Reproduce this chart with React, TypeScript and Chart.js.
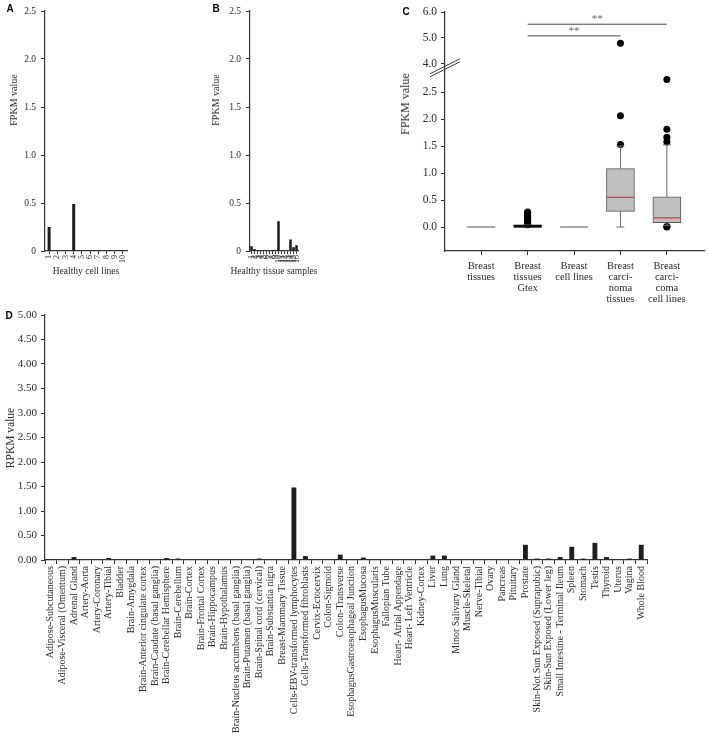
import React, { useEffect, useRef } from 'react';
import { Chart, registerables } from 'chart.js';
Chart.register(...registerables);

const SERIF = '"Liberation Serif", "Times New Roman", serif';
const SANS = '"Liberation Sans", Arial, sans-serif';

// ---------- Panel A ----------
const cellLineLabels = ['1', '2', '3', '4', '5', '6', '7', '8', '9', '10'];
const cellLineValues = [0.25, 0, 0, 0.49, 0, 0, 0, 0, 0, 0.01];
// ---------- Panel B ----------
const tissueSampleLabels = ['1', '2', '3', '4', '5', '6', '7', '8', '9', '10', '11', '12', '13', '14', '15', '16'];
const tissueSampleValues = [0.05, 0.02, 0, 0, 0, 0, 0, 0, 0, 0.31, 0, 0, 0, 0.12, 0.04, 0.06];
const fpkmTicksAB = [0, 0.5, 1.0, 1.5, 2.0, 2.5];

// ---------- Panel C ----------
const boxGroups = [
  ['Breast', 'tissues'],
  ['Breast', 'tissues', 'Gtex'],
  ['Breast', 'cell lines'],
  ['Breast', 'carci-', 'noma', 'tissues'],
  ['Breast', 'carci-', 'coma', 'cell lines'],
];
const boxQ1 = [0, 0, 0, 0.29, 0.08];
const boxMedian = [0, 0.01, 0, 0.55, 0.17];
const boxQ3 = [0, 0.03, 0, 1.08, 0.56];
const whiskerLow = [0, 0, 0, 0, 0.03];
const whiskerHigh = [0, 0.04, 0, 1.50, 1.52];
const outliers = [
  [],
  [0.04, 0.06, 0.08, 0.1, 0.12, 0.14, 0.16, 0.18, 0.2, 0.22, 0.24, 0.26, 0.28],
  [],
  [1.53, 2.06, 4.8],
  [0.0, 0.01, 1.58, 1.66, 1.81, 2.73],
];
const lowerAxisRange = [-0.444, 2.875];
const upperAxisRange = [3.7, 6.0];
const lowerTicks = [0, 0.5, 1.0, 1.5, 2.0, 2.5];
const upperTicks = [4.0, 5.0, 6.0];
const sigPairs = [[1, 3], [1, 4]];
const sigLevels = [5.08, 5.53];
const sigMarks = ['**', '**'];

// ---------- Panel D ----------
const gtexTissues = [
  'Adipose-Subcutaneous', 'Adipose-Visceral (Omentum)', 'Adrenal Gland', 'Artery-Aorta', 'Artery-Coronary',
  'Artery-Tibial', 'Bladder', 'Brain-Amygdala', 'Brain-Anterior cingulate cortex', 'Brain-Caudate (basal ganglia)',
  'Brain-Cerebellar Hemisphere', 'Brain-Cerebellum', 'Brain-Cortex', 'Brain-Frontal Cortex', 'Brain-Hippocampus',
  'Brain-Hypothalamus', 'Brain-Nucleus accumbens (basal ganglia)', 'Brain-Putamen (basal ganglia)',
  'Brain-Spinal cord (cervical)', 'Brain-Substantia nigra', 'Breast-Mammary Tissue',
  'Cells-EBV-transformed lymphocytes', 'Cells-Transformed fibroblasts', 'Cervix-Ectocervix', 'Colon-Sigmoid',
  'Colon-Transverse', 'EsophagusGastroesophageal Junction', 'EsophagusMucosa', 'EsophagusMuscularis',
  'Fallopian Tube', 'Heart- Atrial Appendage', 'Heart- Left Ventricle', 'Kidney-Cortex', 'Liver', 'Lung',
  'Minor Salivary Gland', 'Muscle-Skeletal', 'Nerve-Tibial', 'Ovary', 'Pancreas', 'Pituitary', 'Prostate',
  'Skin-Not Sun Exposed (Suprapubic)', 'Skin-Sun Exposed (Lower leg)', 'Small Intestine - Terminal Ileum',
  'Spleen', 'Stomach', 'Testis', 'Thyroid', 'Uterus', 'Vagina', 'Whole Blood',
];
const gtexRpkm = [
  0.005, 0.01, 0.06, 0, 0,
  0.04, 0, 0.01, 0, 0,
  0.04, 0.03, 0, 0, 0.01,
  0.01, 0, 0,
  0.03, 0.01, 0,
  1.48, 0.08, 0.01, 0,
  0.11, 0, 0.05, 0,
  0, 0, 0, 0, 0.09, 0.09,
  0, 0.01, 0.01, 0, 0, 0, 0.31,
  0.03, 0.03, 0.06,
  0.27, 0.03, 0.35, 0.06, 0, 0.03, 0.31,
];
const rpkmTicks = [0, 0.5, 1, 1.5, 2, 2.5, 3, 3.5, 4, 4.5, 5];

const AX = '#333';
const TXT = '#2a2a2a';

function smallBarConfig(labels: string[], values: number[], yWidth: number, padRight: number, barPct: number): any {
  return {
    type: 'bar',
    data: { labels, datasets: [{ data: values, backgroundColor: '#1e1e1e', barPercentage: barPct, categoryPercentage: 1 }] },
    options: {
      responsive: false,
      animation: false,
      layout: { padding: { top: 11, right: padRight, left: 0, bottom: 0 } },
      plugins: { legend: { display: false }, tooltip: { enabled: false } },
      scales: {
        x: {
          grid: { drawOnChartArea: false, drawTicks: true, tickLength: 3, color: AX, offset: false },
          border: { color: AX, width: 1.2 },
          ticks: { font: { family: SERIF, size: 8 }, color: TXT, minRotation: 90, maxRotation: 90, autoSkip: false, padding: 1 },
          afterFit: (s: any) => { s.height = 39; },
        },
        y: {
          min: 0, max: 2.5,
          afterBuildTicks: (s: any) => { s.ticks = fpkmTicksAB.map((v) => ({ value: v })); },
          ticks: { callback: (v: number) => (v === 0 ? '0' : v.toFixed(1)), font: { family: SERIF, size: 9.5 }, color: TXT, padding: 5 },
          grid: { drawOnChartArea: false, tickLength: 4, color: AX },
          border: { color: AX, width: 1.2 },
          afterFit: (s: any) => { s.width = yWidth; },
        },
      },
    },
  };
}

function line(ctx: CanvasRenderingContext2D, x1: number, y1: number, x2: number, y2: number) {
  ctx.beginPath();
  ctx.moveTo(x1, y1);
  ctx.lineTo(x2, y2);
  ctx.stroke();
}

const boxPlugin = {
  id: 'boxExtras',
  afterDatasetDraw(chart: any, args: any) {
    if (args.index !== 0) return;
    const ctx = chart.ctx as CanvasRenderingContext2D;
    const xs = chart.scales.x;
    const ys = chart.scales.yLow;
    ctx.save();
    boxMedian.forEach((m, i) => {
      const x = xs.getPixelForValue(i);
      const hw = 14;
      const yq1 = ys.getPixelForValue(boxQ1[i]);
      const yq3 = ys.getPixelForValue(boxQ3[i]);
      const collapsed = boxQ3[i] - boxQ1[i] < 0.005;
      if (collapsed) {
        ctx.strokeStyle = '#a8a8a8';
        ctx.lineWidth = 2;
        line(ctx, x - hw, ys.getPixelForValue(m), x + hw, ys.getPixelForValue(m));
        return;
      }
      ctx.strokeStyle = '#666';
      ctx.lineWidth = 1;
      const yHi = ys.getPixelForValue(whiskerHigh[i]);
      const yLo = ys.getPixelForValue(whiskerLow[i]);
      line(ctx, x, yq3, x, yHi);
      line(ctx, x, yq1, x, yLo);
      line(ctx, x - 4, yHi, x + 4, yHi);
      line(ctx, x - 4, yLo, x + 4, yLo);
      if (yq1 - yq3 < 4) {
        ctx.strokeStyle = '#111';
        ctx.lineWidth = 3;
        line(ctx, x - hw, (yq1 + yq3) / 2, x + hw, (yq1 + yq3) / 2);
      } else {
        ctx.strokeStyle = '#e0393b';
        ctx.lineWidth = 1.3;
        line(ctx, x - hw + 0.5, ys.getPixelForValue(m), x + hw - 0.5, ys.getPixelForValue(m));
      }
    });
    ctx.restore();
  },
  afterDraw(chart: any) {
    const ctx = chart.ctx as CanvasRenderingContext2D;
    const xs = chart.scales.x;
    const yu = chart.scales.yUp;
    const yl = chart.scales.yLow;
    ctx.save();
    sigPairs.forEach((p, k) => {
      const y = yu.getPixelForValue(sigLevels[k]);
      const x1 = xs.getPixelForValue(p[0]);
      const x2 = xs.getPixelForValue(p[1]);
      ctx.strokeStyle = '#444';
      ctx.lineWidth = 1;
      line(ctx, x1, y, x2, y);
      ctx.fillStyle = '#666';
      ctx.font = `11px ${SERIF}`;
      ctx.textAlign = 'center';
      ctx.textBaseline = 'alphabetic';
      ctx.fillText(sigMarks[k], (x1 + x2) / 2, y - 2);
    });
    // axis break marks
    const ax = chart.chartArea.left;
    const by = yl.top - 2;
    ctx.strokeStyle = '#444';
    ctx.lineWidth = 1;
    line(ctx, ax - 15, by + 4, ax + 15, by - 11);
    line(ctx, ax - 15, by + 7, ax + 15, by - 8);
    ctx.restore();
  },
};

function boxConfig(): any {
  const lowPts: any[] = [];
  const highPts: any[] = [];
  outliers.forEach((vals, i) => vals.forEach((v) => {
    if (v < upperAxisRange[0]) lowPts.push({ x: i, y: v });
    else highPts.push({ x: i, y: v });
  }));
  const tickFont = { family: SERIF, size: 11.5 };
  return {
    type: 'bar',
    data: {
      datasets: [
        {
          data: boxQ1.map((q, i) => ({ x: i, y: [q, boxQ3[i]] })),
          yAxisID: 'yLow', xAxisID: 'x',
          backgroundColor: '#c0c0c0', borderColor: '#555', borderWidth: 1, borderSkipped: false,
          barThickness: 28,
        },
        { type: 'scatter', data: lowPts, yAxisID: 'yLow', xAxisID: 'x', pointRadius: 3.5, pointBackgroundColor: '#000', pointBorderWidth: 0, showLine: false },
        { type: 'scatter', data: highPts, yAxisID: 'yUp', xAxisID: 'x', pointRadius: 3.5, pointBackgroundColor: '#000', pointBorderWidth: 0, showLine: false },
      ],
    },
    options: {
      responsive: false,
      animation: false,
      layout: { padding: { top: 12, right: 0, left: 0, bottom: 0 } },
      plugins: { legend: { display: false }, tooltip: { enabled: false } },
      scales: {
        x: {
          type: 'linear', min: -0.78, max: 4.8, offset: false,
          afterBuildTicks: (s: any) => { s.ticks = boxGroups.map((_, i) => ({ value: i })); },
          ticks: { callback: (v: number) => boxGroups[v], font: { family: SERIF, size: 10.5, lineHeight: 1.05 }, color: TXT, maxRotation: 0, autoSkip: false, padding: 6 },
          grid: { drawOnChartArea: false, tickLength: 4, color: AX, offset: false },
          border: { color: AX, width: 1.2 },
          afterFit: (s: any) => { s.height = 59; },
        },
        yLow: {
          type: 'linear', position: 'left', stack: 'c', stackWeight: 180,
          min: lowerAxisRange[0], max: lowerAxisRange[1],
          afterBuildTicks: (s: any) => { s.ticks = lowerTicks.map((v) => ({ value: v })); },
          ticks: { callback: (v: number) => v.toFixed(1), font: tickFont, color: TXT, padding: 4 },
          grid: { drawOnChartArea: false, tickLength: 4, color: AX },
          border: { color: AX, width: 1.2 },
          afterFit: (s: any) => { s.width = 65; },
        },
        yUp: {
          type: 'linear', position: 'left', stack: 'c', stackWeight: 60,
          min: upperAxisRange[0], max: upperAxisRange[1],
          afterBuildTicks: (s: any) => { s.ticks = upperTicks.map((v) => ({ value: v })); },
          ticks: { callback: (v: number) => v.toFixed(1), font: tickFont, color: TXT, padding: 4 },
          grid: { drawOnChartArea: false, tickLength: 4, color: AX },
          border: { color: AX, width: 1.2 },
          afterFit: (s: any) => { s.width = 65; },
        },
      },
    },
    plugins: [boxPlugin],
  };
}

function gtexConfig(): any {
  return {
    type: 'bar',
    data: { labels: gtexTissues, datasets: [{ data: gtexRpkm, backgroundColor: '#1e1e1e', barPercentage: 0.42, categoryPercentage: 1 }] },
    options: {
      responsive: false,
      animation: false,
      layout: { padding: { top: 15, right: 61, left: 0, bottom: 0 } },
      plugins: { legend: { display: false }, tooltip: { enabled: false } },
      scales: {
        x: {
          grid: { drawOnChartArea: false, tickLength: 4, color: AX, offset: true },
          border: { color: AX, width: 1.2 },
          ticks: { font: { family: SERIF, size: 10 }, color: TXT, minRotation: 90, maxRotation: 90, autoSkip: false, padding: 2 },
          afterFit: (s: any) => { s.height = 176; },
        },
        y: {
          min: 0, max: 5,
          afterBuildTicks: (s: any) => { s.ticks = rpkmTicks.map((v) => ({ value: v })); },
          ticks: { callback: (v: number) => v.toFixed(2), font: { family: SERIF, size: 11 }, color: TXT, padding: 4 },
          grid: { drawOnChartArea: false, tickLength: 4, color: AX },
          border: { color: AX, width: 1.2 },
          afterFit: (s: any) => { s.width = 45; },
        },
      },
    },
  };
}

function ChartBox({ left, top, width, height, make }: { left: number; top: number; width: number; height: number; make: () => any }) {
  const ref = useRef<HTMLCanvasElement>(null);
  useEffect(() => {
    const chart = new Chart(ref.current as HTMLCanvasElement, make());
    return () => chart.destroy();
  }, []);
  return (
    <div style={{ position: 'absolute', left, top, width, height }}>
      <canvas ref={ref} width={width} height={height} style={{ display: 'block', width, height }} />
    </div>
  );
}

function Text({ x, y, text, size, rotate, bold, family }: { x: number; y: number; text: string; size: number; rotate?: boolean; bold?: boolean; family: string }) {
  return (
    <div
      style={{
        position: 'absolute', left: x, top: y,
        transform: `translate(-50%, -50%)${rotate ? ' rotate(-90deg)' : ''}`,
        whiteSpace: 'nowrap', fontFamily: family, fontSize: size, fontWeight: bold ? 700 : 400,
        color: bold ? '#000' : TXT, lineHeight: 1,
      }}
    >
      {text}
    </div>
  );
}

export default function App() {
  return (
    <div style={{ position: 'absolute', left: 0, top: 0, width: 708, height: 736, background: '#fff', overflow: 'hidden' }}>
      <ChartBox left={0} top={0} width={140} height={290} make={() => smallBarConfig(cellLineLabels, cellLineValues, 45, 13, 0.37)} />
      <ChartBox left={170} top={0} width={150} height={290} make={() => smallBarConfig(tissueSampleLabels, tissueSampleValues, 80, 22, 0.85)} />
      <ChartBox left={0} top={300} width={708} height={436} make={gtexConfig} />
      <ChartBox left={380} top={0} width={328} height={310} make={boxConfig} />
      <Text x={86} y={272} text="Healthy cell lines" size={9.5} family={SERIF} />
      <Text x={274} y={272} text="Healthy tissue samples" size={9.5} family={SERIF} />
      <Text x={14} y={100} text="FPKM value" size={10} rotate family={SERIF} />
      <Text x={216} y={100} text="FPKM value" size={10} rotate family={SERIF} />
      <Text x={405} y={104} text="FPKM value" size={12} rotate family={SERIF} />
      <Text x={11} y={438} text="RPKM value" size={11.5} rotate family={SERIF} />
      <Text x={10} y={9} text="A" size={10} bold family={SANS} />
      <Text x={216} y={9} text="B" size={10} bold family={SANS} />
      <Text x={406} y={12} text="C" size={10} bold family={SANS} />
      <Text x={9} y={316} text="D" size={10} bold family={SANS} />
    </div>
  );
}
